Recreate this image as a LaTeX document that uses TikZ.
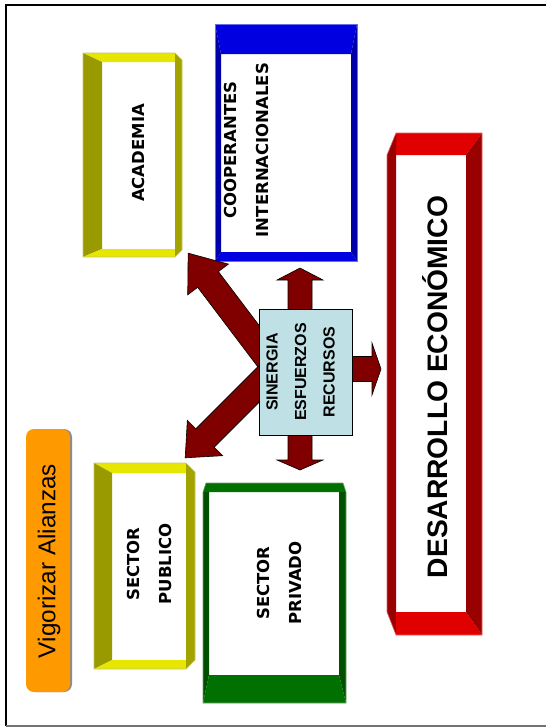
\documentclass[tikz,border=0pt]{standalone}
\usepackage{fontspec}
\setmainfont{Liberation Sans}[BoldFont={Liberation Sans Bold}]
\newfontfamily\boxfont{DejaVu Sans}[BoldFont={DejaVu Sans Bold}]
\usetikzlibrary{calc}
\definecolor{yelL}{HTML}{E6E600}
\definecolor{yelD}{HTML}{999900}
\definecolor{yelR}{HTML}{A3A300}
\definecolor{yelE}{HTML}{C8C860}
\definecolor{bluL}{HTML}{0000E0}
\definecolor{bluD}{HTML}{0000A8}
\definecolor{bluE}{HTML}{6A6AF0}
\definecolor{redL}{HTML}{E00000}
\definecolor{redD}{HTML}{990000}
\definecolor{redE}{HTML}{E86060}
\definecolor{grnL}{HTML}{007000}
\definecolor{grnD}{HTML}{005000}
\definecolor{grnE}{HTML}{70A070}
\definecolor{arrowred}{HTML}{800000}
\definecolor{synfill}{HTML}{BFE0E5}
\definecolor{orng}{HTML}{FF9900}
\tikzset{
  face/.style={fill=#1, draw=none},
  edge/.style={draw=#1, line width=0.6pt, fill=none},
  arrowsty/.style={fill=arrowred, draw=black, line width=0.6pt, line join=miter},
  lbl/.style={rotate=90, align=center, inner sep=0pt,
    font=\boxfont\bfseries\fontsize{16.5}{32}\selectfont},
  pics/barrow/.style args={#1/#2/#3/#4}{code={
    \draw[arrowsty] (0,{-#2/2}) -- ({#1-#4},{-#2/2}) -- ({#1-#4},{-#3/2}) -- (#1,0)
      -- ({#1-#4},{#3/2}) -- ({#1-#4},{#2/2}) -- (0,{#2/2}) -- cycle;
  }}
}
\begin{document}
\begin{tikzpicture}[x=1pt,y=-1pt]
\useasboundingbox (0,0) rectangle (546,728);
\fill[white] (0,0) rectangle (546,728);
% frame
\draw[black, line width=2pt] (546,5) -- (6,5) -- (6,726);
\draw[black!55, line width=1.6pt] (6,726) -- (546,726);

% ACADEMIA box
\fill[white] (102,62) rectangle (175,249);
\fill[face=yelL] (83,53) -- (175,53) -- (175,62) -- (102,62) -- cycle;
\fill[face=yelD] (83,53) -- (102,62) -- (102,249) -- (83,257) -- cycle;
\fill[face=yelL] (83,257) -- (102,249) -- (175,249) -- (175,257) -- cycle;
\fill[face=yelR] (175,53) -- (182,60) -- (182,250) -- (175,257) -- cycle;
\draw[edge=yelE] (83,53) -- (175,53) -- (182,60) -- (182,250) -- (175,257) -- (83,257) -- cycle;
\node[lbl] (acad) at (138.5,153) {ACADEMIA};

% COOPERANTES box
\fill[white] (221,54) rectangle (351,252);
\fill[face=bluL] (215,24) -- (357,24) -- (351,54) -- (221,54) -- cycle;
\fill[face=bluD] (215,24) -- (221,54) -- (221,252) -- (215,261) -- cycle;
\fill[face=bluD] (357,24) -- (357,261) -- (351,252) -- (351,54) -- cycle;
\fill[face=bluL] (215,261) -- (221,252) -- (351,252) -- (357,261) -- cycle;
\draw[edge=bluE] (215,24) rectangle (357,261);
\node[lbl] (coop) at (246,150) {COOPERANTES\\INTERNACIONALES};

% DESARROLLO box
\fill[white] (396,155) rectangle (466,612);
\fill[face=redL] (396,133) -- (482,133) -- (466,155) -- (396,155) -- cycle;
\fill[face=redD] (396,133) -- (387,155) -- (387,612) -- (396,635) -- cycle;
\fill[face=redL] (396,612) -- (466,612) -- (482,635) -- (396,635) -- cycle;
\fill[face=redD] (482,133) -- (466,155) -- (466,612) -- (482,635) -- cycle;
\draw[edge=redE] (396,133) -- (482,133) -- (482,635) -- (396,635) -- (387,612) -- (387,155) -- cycle;
\node[rotate=90, inner sep=0pt, font=\bfseries\fontsize{28.2}{34}\selectfont] (des) at (435,387) {DESARROLLO ECONÓMICO};

% SECTOR PUBLICO box
\fill[white] (112,473) rectangle (186,660);
\fill[face=yelL] (94,463) -- (186,463) -- (186,473) -- (112,473) -- cycle;
\fill[face=yelD] (94,463) -- (112,473) -- (112,660) -- (94,669) -- cycle;
\fill[face=yelL] (94,669) -- (112,660) -- (186,660) -- (186,669) -- cycle;
\fill[face=yelR] (186,463) -- (195,472) -- (195,660) -- (186,669) -- cycle;
\draw[edge=yelE] (94,463) -- (186,463) -- (195,472) -- (195,660) -- (186,669) -- (94,669) -- cycle;
\node[lbl] (pub) at (149,564) {SECTOR\\PUBLICO};

% SECTOR PRIVADO box
\fill[white] (209,492) rectangle (339,675);
\fill[face=grnL] (206,483) -- (343,483) -- (346,492) -- (203,492) -- cycle;
\fill[face=grnD] (203,492) -- (209,492) -- (209,675) -- (203,703) -- cycle;
\fill[face=grnD] (346,492) -- (339,492) -- (339,675) -- (346,703) -- cycle;
\fill[face=grnL] (209,675) -- (339,675) -- (346,703) -- (203,703) -- cycle;
\draw[edge=grnE] (206,483) -- (343,483) -- (346,492) -- (346,703) -- (203,703) -- (203,492) -- cycle;
\node[lbl] (priv) at (279,583) {SECTOR\\PRIVADO};

% Vigorizar Alianzas
\fill[black!45, rounded corners=8pt] (28,429) rectangle (72,692);
\fill[orng, rounded corners=8pt] (26,429) rectangle (70,692);
\node[rotate=90, inner sep=0pt, font=\fontsize{24.3}{28}\selectfont] (vig) at (49,561) {Vigorizar Alianzas};

% arrows
\coordinate (hub) at (275,368);
\coordinate (ctr) at (300,372);
\coordinate (rgt) at (300,369);
\pic[rotate=127.1] at (hub) {barrow=144/26/51/33};
\pic[rotate=225] at (hub) {barrow=127/26/50/28};
\pic[rotate=90] at (ctr) {barrow=104/24/46/12};
\pic[rotate=270] at (ctr) {barrow=98/24/46/10};
\pic[rotate=0] at (rgt) {barrow=81/25/52/9};

% synergy box
\node[draw=black, fill=synfill, line width=0.8pt, minimum width=93pt, minimum height=126pt, inner sep=0pt] (syn) at (305.5,372) {};
\node[rotate=90, align=center, inner sep=0pt, font=\bfseries\fontsize{16}{28.5}\selectfont] (synt) at (300.5,372) {SINERGIA\\ESFUERZOS\\RECURSOS};
\end{tikzpicture}
\end{document}
